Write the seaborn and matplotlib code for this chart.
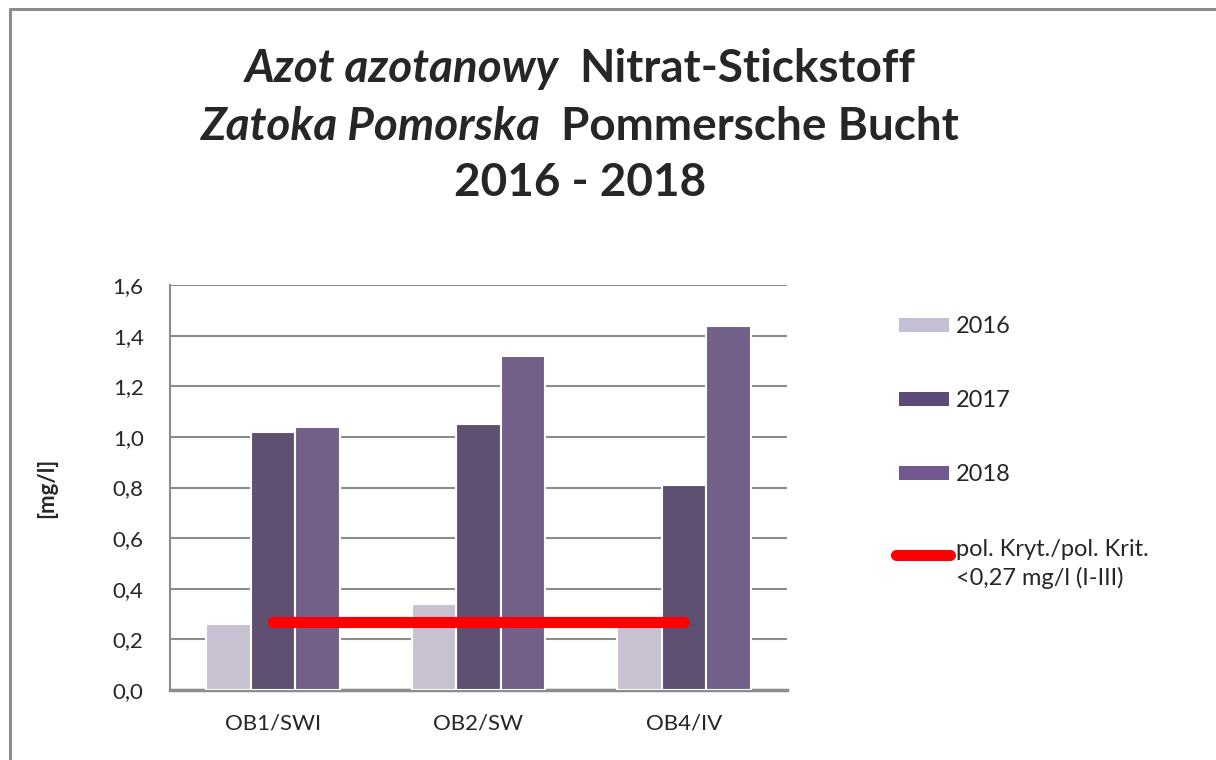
import matplotlib
matplotlib.use('Agg')
import matplotlib.pyplot as plt
from matplotlib.lines import Line2D
from matplotlib.patches import Patch
from matplotlib.legend_handler import HandlerLine2D
from matplotlib.ticker import FuncFormatter
import seaborn as sns
import pandas as pd

# Data
stations = ['OB1/SWI', 'OB2/SW', 'OB4/IV']
years = ['2016', '2017', '2018']
values_2016 = [0.26, 0.34, 0.27]
values_2017 = [1.02, 1.05, 0.81]
values_2018 = [1.04, 1.32, 1.44]
threshold = 0.27
threshold_label = 'pol. Kryt./pol. Krit.\n<0,27 mg/l (I-III)'

colors = ['#c6bed5', '#5e4a78', '#71598f']
GRID = '#8c8c8c'
FONT = 'Lato'


class TopAlignedLine(HandlerLine2D):
    """ Puts the line handle next to the first row of a two-line label. """
    def create_artists(self, legend, orig_handle, xdescent, ydescent,
                       width, height, fontsize, trans):
        return super().create_artists(legend, orig_handle, xdescent + 2,
                                      ydescent - 0.85 * fontsize, width + 3,
                                      height, fontsize, trans)


df = pd.DataFrame({
    'station': stations * 3,
    'year': [y for y in years for _ in stations],
    'value': values_2016 + values_2017 + values_2018,
})

sns.set_style('white')
plt.rcParams['font.family'] = [FONT, 'DejaVu Sans']

fig = plt.figure(figsize=(12.16, 7.6), dpi=100)
ax = fig.add_axes([170 / 1216, 1 - 690 / 760, 617 / 1216, 405 / 760])

sns.barplot(data=df, x='station', y='value', hue='year', palette=colors,
            width=0.65, edgecolor='white', linewidth=1.5, ax=ax, legend=False,
            zorder=3)

# threshold line from first to last station
ax.plot([0, len(stations) - 1], [threshold, threshold], color='#ff0000',
        lw=8, solid_capstyle='round', zorder=4)

ax.set_xlim(-0.5, 2.5)
ax.set_ylim(0, 1.6)
ax.set_yticks([0, 0.2, 0.4, 0.6, 0.8, 1.0, 1.2, 1.4, 1.6])
ax.yaxis.set_major_formatter(FuncFormatter(lambda v, p: f'{v:.1f}'.replace('.', ',')))
ax.grid(axis='y', color=GRID, lw=1.5, zorder=0)
ax.set_axisbelow(True)
for s in ['top', 'right']:
    ax.spines[s].set_visible(False)
ax.spines['left'].set_color(GRID)
ax.spines['left'].set_linewidth(1.5)
ax.spines['bottom'].set_color(GRID)
ax.spines['bottom'].set_linewidth(2.5)
ax.tick_params(axis='y', labelsize=16, length=0, pad=19)
ax.tick_params(axis='x', labelsize=16, length=0, pad=17)
ax.set_xlabel('')
ax.set_ylabel('[mg/l]', fontsize=16, fontweight='bold', labelpad=40)

# Legend
handles = [Patch(facecolor=c, edgecolor='none') for c in colors]
red = Line2D([0], [0], color='#ff0000', lw=8, solid_capstyle='round')
handles.append(red)
leg = fig.legend(handles, years + [threshold_label], loc='upper left',
                 bbox_to_anchor=(878 / 1216, 1 - 295 / 760), frameon=False,
                 fontsize=17, labelspacing=2.25, handlelength=2.1,
                 handleheight=0.55, handletextpad=0.3,
                 handler_map={red: TopAlignedLine()})
leg.get_texts()[3].set_linespacing(1.4)

# Title: italic Polish part + bold German part on each line
renderer = fig.canvas.get_renderer()
title_lines = [
    ('Azot azotanowy', 'Nitrat-Stickstoff', 1 - 82 / 760),
    ('Zatoka Pomorska', 'Pommersche Bucht', 1 - 140 / 760),
    ('', '2016 - 2018', 1 - 196 / 760),
]
cx = 580 / 1216
for pol, ger, y in title_lines:
    parts = []
    if pol:
        parts.append(fig.text(0, y, pol + '  ', fontsize=33, fontweight='bold',
                              style='italic', va='baseline', ha='left'))
    parts.append(fig.text(0, y, ger, fontsize=33, fontweight='bold',
                          va='baseline', ha='left'))
    widths = [t.get_window_extent(renderer).width / fig.bbox.width for t in parts]
    x = cx - sum(widths) / 2
    for t, w in zip(parts, widths):
        t.set_x(x)
        x += w

# Outer frame (cropped: only left and top edges visible)
fig.add_artist(Line2D([10 / 1216, 10 / 1216], [0, 1 - 9 / 760], color=GRID, lw=2.2))
fig.add_artist(Line2D([10 / 1216, 1], [1 - 9 / 760, 1 - 9 / 760], color=GRID, lw=2.2))

plt.savefig('out.png', dpi=100)
